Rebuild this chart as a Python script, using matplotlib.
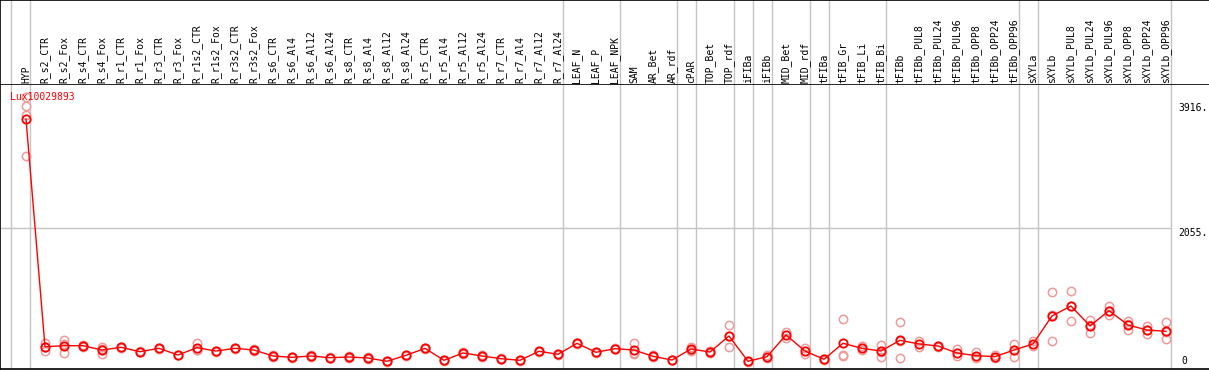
import matplotlib
matplotlib.use('Agg')
import matplotlib.pyplot as plt

# sample columns, in display order
samples = [
    'HYP', 'R_s2_CTR', 'R_s2_Fox', 'R_s4_CTR', 'R_s4_Fox', 'R_r1_CTR', 'R_r1_Fox',
    'R_r3_CTR', 'R_r3_Fox', 'R_r1s2_CTR', 'R_r1s2_Fox', 'R_r3s2_CTR', 'R_r3s2_Fox',
    'R_s6_CTR', 'R_s6_Al4', 'R_s6_Al12', 'R_s6_Al24', 'R_s8_CTR', 'R_s8_Al4',
    'R_s8_Al12', 'R_s8_Al24', 'R_r5_CTR', 'R_r5_Al4', 'R_r5_Al12', 'R_r5_Al24',
    'R_r7_CTR', 'R_r7_Al4', 'R_r7_Al12', 'R_r7_Al24', 'LEAF_N', 'LEAF_P', 'LEAF_NPK',
    'SAM', 'AR_Bet', 'AR_rdf', 'cPAR', 'TOP_Bet', 'TOP_rdf', 'iFIBa', 'iFIBb',
    'MID_Bet', 'MID_rdf', 'tFIBa', 'tFIB_Gr', 'tFIB_Li', 'tFIB_Bi', 'tFIBb',
    'tFIBb_PUL8', 'tFIBb_PUL24', 'tFIBb_PUL96', 'tFIBb_OPP8', 'tFIBb_OPP24',
    'tFIBb_OPP96', 'sXYLa', 'sXYLb', 'sXYLb_PUL8', 'sXYLb_PUL24', 'sXYLb_PUL96',
    'sXYLb_OPP8', 'sXYLb_OPP24', 'sXYLb_OPP96',
]

# mean expression per sample
means = [
    3678, 287, 302, 302, 238, 278, 213, 263, 164, 273, 223, 263, 238,
    149, 129, 149, 124, 134, 119, 70, 159, 263, 85, 194, 149,
    109, 85, 219, 174, 338, 204, 258,
    238, 144, 89, 253, 208, 447, 70, 139,
    462, 223, 100, 338, 263, 223, 382,
    328, 298, 193, 154, 139, 238,
    328, 745, 893, 596, 824, 610, 536, 516,
]

# individual replicates per sample
replicates = [
    [4010, 3871, 3737, 3127], [346, 223, 290], [387, 189, 330], [315, 290],
    [278, 179, 255], [285, 270], [220, 205], [275, 250], [170, 158],
    [338, 238, 245], [230, 215], [275, 250], [255, 220],
    [158, 140], [138, 120], [158, 140], [132, 116], [142, 126], [127, 111],
    [78, 62], [168, 150], [272, 254], [93, 77], [203, 185], [158, 140],
    [117, 101], [93, 77], [228, 210], [183, 165], [347, 329], [213, 195],
    [267, 249],
    [347, 174, 195], [160, 130], [95, 82], [290, 230, 240], [225, 190],
    [610, 288, 440], [75, 65], [160, 125],
    [510, 420], [270, 180], [105, 95], [700, 164, 150], [300, 240],
    [313, 139, 215], [660, 115, 370],
    [375, 280], [305, 290], [250, 150], [210, 120], [170, 115],
    [328, 139, 245],
    [365, 305], [1097, 372, 765], [1112, 670, 897], [685, 487, 615],
    [898, 759, 815], [675, 536, 620], [596, 476, 536], [651, 398, 500],
]

# last column index of each sample group
group_ends = [-1, 0, 28, 31, 34, 35, 37, 38, 39, 41, 42, 45, 52, 53, 60]

probe = 'Lux10029893'
y_marks = [3916, 2055, 0]
y_texts = ['3916.', '2055.', '0']

W, H = 1209, 370
PX0, STEP = 26, 19          # pixel x of first column, spacing
Y0PX, YSCALE = 366, 0.06717  # pixel y of value 0, px per unit
HDR = 85                     # header height in px

def px2x(px):
    return (px - PX0) / STEP

fig = plt.figure(figsize=(W / 100, H / 100), dpi=100)
font = dict(family='DejaVu Sans Mono', fontsize=7)

# header with rotated sample names
hdr = fig.add_axes([0, (H - HDR) / H, 1, HDR / H])
hdr.set_xlim(px2x(0), px2x(W))
hdr.set_ylim(0, HDR)
hdr.set_xticks([])
hdr.set_yticks([])
hdr.spines['right'].set_visible(False)
for s in ['top', 'bottom', 'left']:
    hdr.spines[s].set_linewidth(1.2)
for i, name in enumerate(samples):
    hdr.text(i, 2, name, rotation=90, ha='center', va='bottom', **font)

# main plot area
ax = fig.add_axes([0, 1 / H, 1, (H - HDR - 1) / H])
ax.set_xlim(px2x(0), px2x(W))
ax.set_ylim(-(369 - Y0PX) / YSCALE, (Y0PX - HDR) / YSCALE)
ax.set_xticks([])
ax.set_yticks([])
ax.spines['top'].set_visible(False)
ax.spines['right'].set_visible(False)
ax.spines['left'].set_linewidth(1.2)
ax.spines['bottom'].set_linewidth(1.2)

sep_color = '#c4c4c4'
for g in group_ends:
    xs = g + 4.5 / STEP
    ax.axvline(xs, color=sep_color, lw=1, zorder=0)
    hdr.axvline(xs, color=sep_color, lw=1, zorder=0)
ax.hlines(y_marks[1], px2x(0), group_ends[-1] + 4.5 / STEP,
          color=sep_color, lw=1, zorder=0)

# replicates
for i, reps in enumerate(replicates):
    ax.plot([i] * len(reps), reps, ls='none', marker='o', ms=6,
            mfc='none', mec='#ee9a9a', mew=1.1, zorder=2)

# mean profile
ax.plot(range(len(means)), means, color='red', lw=1, marker='o', ms=6,
        mfc='none', mec='red', mew=1.3, zorder=3)

ax.text(px2x(10), (Y0PX - 97) / YSCALE, probe, color='red', ha='left',
        va='center', **font)

for val, txt in zip(y_marks, y_texts):
    xpx = 1181 if txt == '0' else 1178
    ax.text(px2x(xpx), val, txt, ha='left', va='bottom' if val == 0 else 'top',
            **font)

fig.savefig('out.png', dpi=100)
